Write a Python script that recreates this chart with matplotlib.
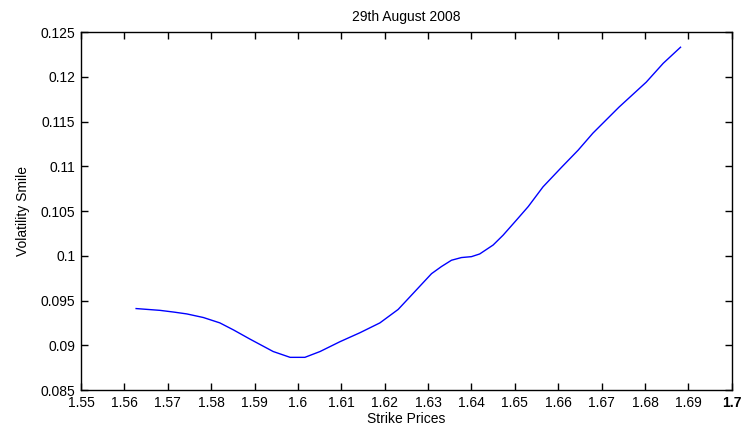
import numpy as np
from matplotlib import pyplot as plt

# strike prices and implied volatility
strikes = [1.5627, 1.5682, 1.5715, 1.5744, 1.5782, 1.5820, 1.5852, 1.5889,
           1.5943, 1.5982, 1.6016, 1.6051, 1.6097, 1.6143, 1.6189, 1.6231,
           1.6258, 1.6308, 1.6331, 1.6354, 1.6377, 1.6400, 1.6419, 1.6450,
           1.6473, 1.6504, 1.6531, 1.6565, 1.6608, 1.6646, 1.668, 1.674, 1.6803,
           1.6842, 1.6882]
vols = [0.0941, 0.0939, 0.0937, 0.0935, 0.0931, 0.0925, 0.0917, 0.0907,
        0.0893, 0.08865, 0.08865, 0.0893, 0.0904, 0.0914, 0.0925, 0.0940,
        0.0954, 0.0980, 0.0988, 0.0995, 0.0998, 0.0999, 0.1002, 0.1012,
        0.1023, 0.1040, 0.1055, 0.1077, 0.1099, 0.1118, 0.1137, 0.1166, 0.1194,
        0.1215, 0.1233]

x_ticks = [1.55, 1.56, 1.57, 1.58, 1.59, 1.6, 1.61, 1.62, 1.63, 1.64, 1.65,
           1.66, 1.67, 1.68, 1.69, 1.7]
y_ticks = [0.085, 0.09, 0.095, 0.1, 0.105, 0.11, 0.115, 0.12, 0.125]

plt.rcParams['font.family'] = ['Liberation Sans', 'DejaVu Sans']
plt.rcParams['font.size'] = 10

fig = plt.figure(figsize=(7.44, 4.32), dpi=100)
ax = fig.add_axes([0.1089, 0.0972, 0.8746, 0.8287])

ax.plot(strikes, vols, color='#0000ff', linewidth=1.0)

ax.set_xlim(1.55, 1.70)
ax.set_ylim(0.085, 0.125)
ax.set_xticks(x_ticks)
ax.set_xticklabels(['%g' % t for t in x_ticks])
ax.set_yticks(y_ticks)
ax.set_yticklabels(['%g' % t for t in y_ticks])
ax.get_xticklabels()[-1].set_fontweight('bold')

ax.tick_params(direction='in', length=5, width=1, top=True, right=True,
               labelsize=10, pad=4, colors='black')
for s in ax.spines.values():
    s.set_linewidth(1.0)

ax.set_title('29th August 2008', fontsize=10, pad=8)
ax.set_xlabel('Strike Prices', fontsize=10, labelpad=2)
ax.set_ylabel('Volatility Smile', fontsize=10, labelpad=8)

fig.savefig('out.png', dpi=100)
